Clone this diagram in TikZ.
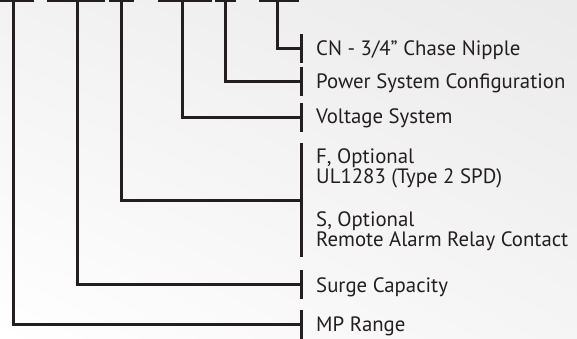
\documentclass[tikz,border=0pt]{standalone}
\usepackage{fontspec}
\setmainfont{PT Sans}
\usepackage{tikz}
\usetikzlibrary{positioning,shadings}
\definecolor{ink}{RGB}{35,31,32}
\tikzset{
  bar/.style={draw=ink, line width=3.6pt},
  link/.style={draw=ink, line width=3pt},
  tickbar/.style={fill=ink, inner sep=0pt, minimum width=2.7pt, minimum height=29pt},
  lbl/.style={anchor=base west, inner sep=0pt, align=left, text=ink, font=\fontsize{20.8}{16}\selectfont}
}

\begin{document}
\begin{tikzpicture}[x=1pt,y=-1pt]
  \useasboundingbox (0,0) rectangle (577,339);
  \clip (0,0) rectangle (577,339);
  \shade[lower left=white, upper left=black!5, upper right=black!8, lower right=black!4] (0,0) rectangle (577,339);
  % segment bars of the part number
  \draw[bar] (-2,0) -- (34,0);
  \draw[bar] (47,0) -- (105,0);
  \draw[bar] (109,0) -- (134,0);
  \draw[bar] (158,0) -- (212,0);
  \draw[bar] (215,0) -- (236,0);
  \draw[bar] (259,0) -- (299,0);
  \coordinate (mp-top) at (13.5,0);
  \coordinate (sc-top) at (77,0);
  \coordinate (op-top) at (121,0);
  \coordinate (vs-top) at (182.5,0);
  \coordinate (ps-top) at (225.5,0);
  \coordinate (cn-top) at (277,0);
  % ticks
  \node[tickbar] (cn-tick) at (301.5,49) {};
  \node[tickbar] (ps-tick) at (301.5,81.5) {};
  \node[tickbar] (vs-tick) at (301.5,117.5) {};
  \node[tickbar, minimum height=114pt] (op-tick) at (301.5,200) {};
  \node[tickbar] (sc-tick) at (301.5,284.5) {};
  \node[tickbar] (mp-tick) at (301.5,324.5) {};
  % labels (two-line labels sit on their last line)
  \node[lbl] (cn) at (316,56) {CN - 3/4” Chase Nipple};
  \node[lbl] (ps) at (316,88.5) {Power System Configuration};
  \node[lbl] (vs) at (316,124) {Voltage System};
  \node[lbl] (opf) at (316,183) {F, Optional\\UL1283 (Type 2 SPD)};
  \node[lbl] (ops) at (316,246) {S, Optional\\Remote Alarm Relay Contact};
  \node[lbl] (sc) at (316,292) {Surge Capacity};
  \node[lbl] (mp) at (316,331) {MP Range};
  % connectors
  \draw[link] (cn-top) |- (cn-tick);
  \draw[link] (ps-top) |- (ps-tick);
  \draw[link] (vs-top) |- (vs-tick);
  \draw[link] (op-top) |- (op-tick);
  \draw[link] (sc-top) |- (sc-tick);
  \draw[link] (mp-top) |- (mp-tick);
\end{tikzpicture}
\end{document}
